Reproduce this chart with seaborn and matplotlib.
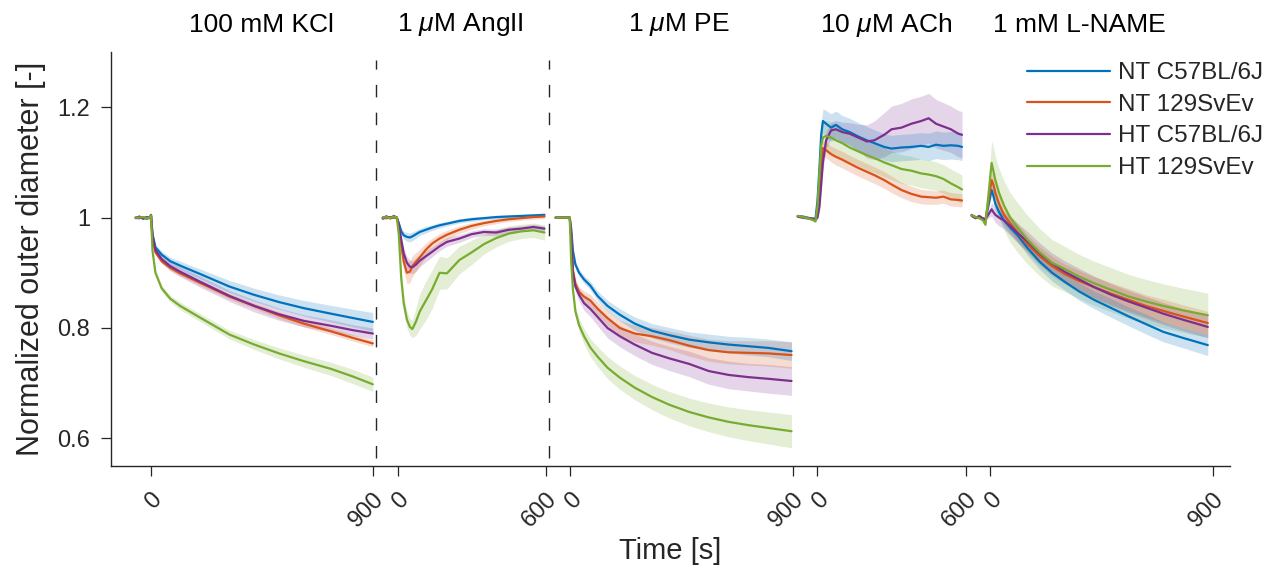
import pandas as pd
import matplotlib
matplotlib.use('Agg')
import matplotlib.pyplot as plt
import matplotlib.transforms as mtransforms
import seaborn as sns

GROUPS = ['NT C57BL/6J', 'NT 129SvEv', 'HT C57BL/6J', 'HT 129SvEv']
COLORS = ['#0072BD', '#D95319', '#7E2F8E', '#77AC30']

SEGMENTS = ['100 mM KCl', r'1 $\mu$M AngII', r'1 $\mu$M PE', r'10 $\mu$M ACh', '1 mM L-NAME']
SEG_LENGTH = [900, 600, 900, 600, 900]

# --- 100 mM KCl ---
kcl_t = [-60, -45, -30, -15, -3, 2, 8, 20, 45, 80, 120, 200, 320, 420, 520, 620, 730, 820, 900]
kcl_mean = {
    'NT C57BL/6J': [1.0, 0.999, 1.001, 0.998, 1.001, 1.004, 0.97, 0.946, 0.933, 0.921, 0.913, 0.898, 0.875, 0.860, 0.847, 0.836, 0.826, 0.818, 0.811],
    'NT 129SvEv': [1.0, 1.001, 0.999, 1.0, 1.0, 1.003, 0.962, 0.937, 0.921, 0.909, 0.899, 0.882, 0.857, 0.840, 0.823, 0.808, 0.794, 0.782, 0.772],
    'HT C57BL/6J': [0.999, 1.002, 0.998, 1.001, 0.999, 1.005, 0.966, 0.941, 0.925, 0.912, 0.902, 0.884, 0.858, 0.840, 0.825, 0.813, 0.804, 0.796, 0.790],
    'HT 129SvEv': [1.0, 1.0, 1.001, 0.999, 1.0, 1.004, 0.94, 0.900, 0.872, 0.853, 0.840, 0.819, 0.788, 0.770, 0.754, 0.740, 0.726, 0.712, 0.698],
}
kcl_sem = {
    'NT C57BL/6J': [0.002, 0.002, 0.002, 0.002, 0.002, 0.002, 0.004, 0.005, 0.006, 0.007, 0.008, 0.009, 0.011, 0.012, 0.013, 0.014, 0.015, 0.016, 0.017],
    'NT 129SvEv': [0.002, 0.002, 0.002, 0.002, 0.002, 0.002, 0.003, 0.004, 0.004, 0.005, 0.005, 0.005, 0.005, 0.005, 0.006, 0.006, 0.006, 0.006, 0.006],
    'HT C57BL/6J': [0.002, 0.002, 0.002, 0.002, 0.002, 0.002, 0.004, 0.006, 0.007, 0.008, 0.009, 0.010, 0.010, 0.011, 0.011, 0.011, 0.011, 0.010, 0.010],
    'HT 129SvEv': [0.002, 0.002, 0.002, 0.002, 0.002, 0.002, 0.004, 0.005, 0.006, 0.006, 0.007, 0.007, 0.008, 0.009, 0.010, 0.011, 0.012, 0.013, 0.013],
}

# --- 1 uM AngII ---
ang_t = [-60, -45, -30, -15, -3, 5, 15, 25, 38, 50, 60, 75, 90, 115, 140, 170, 200, 250, 300, 350, 400, 450, 500, 550, 595]
ang_mean = {
    'NT C57BL/6J': [1.0, 1.002, 0.999, 1.001, 1.0, 0.990, 0.975, 0.968, 0.965, 0.964, 0.966, 0.970, 0.974, 0.978, 0.982, 0.986, 0.989, 0.994, 0.997, 0.999, 1.001, 1.002, 1.003, 1.004, 1.005],
    'NT 129SvEv': [1.0, 0.999, 1.001, 1.0, 1.0, 0.985, 0.950, 0.920, 0.900, 0.902, 0.912, 0.920, 0.928, 0.942, 0.953, 0.962, 0.969, 0.978, 0.985, 0.990, 0.994, 0.997, 0.999, 1.001, 1.002],
    'HT C57BL/6J': [0.998, 1.002, 0.999, 1.003, 1.0, 0.988, 0.960, 0.935, 0.918, 0.911, 0.910, 0.915, 0.922, 0.930, 0.938, 0.948, 0.956, 0.962, 0.970, 0.974, 0.973, 0.978, 0.980, 0.983, 0.980],
    'HT 129SvEv': [1.0, 1.001, 0.999, 1.002, 1.0, 0.970, 0.890, 0.845, 0.815, 0.802, 0.798, 0.812, 0.830, 0.850, 0.870, 0.900, 0.899, 0.923, 0.937, 0.952, 0.963, 0.971, 0.975, 0.977, 0.973],
}
ang_sem = {
    'NT C57BL/6J': [0.002, 0.002, 0.002, 0.002, 0.002, 0.004, 0.006, 0.007, 0.008, 0.008, 0.008, 0.007, 0.006, 0.006, 0.005, 0.005, 0.004, 0.004, 0.004, 0.003, 0.003, 0.003, 0.003, 0.003, 0.003],
    'NT 129SvEv': [0.002, 0.002, 0.002, 0.002, 0.002, 0.006, 0.012, 0.017, 0.020, 0.020, 0.019, 0.017, 0.015, 0.012, 0.010, 0.009, 0.008, 0.007, 0.006, 0.005, 0.005, 0.004, 0.004, 0.004, 0.004],
    'HT C57BL/6J': [0.002, 0.002, 0.002, 0.002, 0.002, 0.005, 0.008, 0.010, 0.012, 0.012, 0.012, 0.012, 0.011, 0.010, 0.009, 0.008, 0.008, 0.007, 0.006, 0.006, 0.006, 0.005, 0.005, 0.005, 0.005],
    'HT 129SvEv': [0.002, 0.002, 0.002, 0.002, 0.002, 0.008, 0.012, 0.014, 0.015, 0.015, 0.016, 0.025, 0.032, 0.035, 0.035, 0.030, 0.028, 0.025, 0.022, 0.018, 0.016, 0.014, 0.013, 0.013, 0.014],
}

# --- 1 uM PE ---
pe_t = [-60, -40, -20, -3, 3, 10, 20, 35, 55, 80, 110, 150, 200, 260, 330, 400, 480, 560, 640, 720, 800, 895]
pe_mean = {
    'NT C57BL/6J': [1.0, 1.0, 1.0, 1.0, 0.980, 0.940, 0.915, 0.900, 0.888, 0.877, 0.858, 0.840, 0.824, 0.808, 0.795, 0.787, 0.779, 0.774, 0.770, 0.767, 0.764, 0.758],
    'NT 129SvEv': [1.0, 1.0, 1.0, 1.0, 0.970, 0.905, 0.880, 0.865, 0.857, 0.850, 0.835, 0.818, 0.800, 0.790, 0.785, 0.778, 0.768, 0.760, 0.756, 0.755, 0.754, 0.751],
    'HT C57BL/6J': [1.0, 1.0, 1.0, 1.0, 0.965, 0.900, 0.875, 0.860, 0.845, 0.835, 0.820, 0.800, 0.785, 0.770, 0.755, 0.745, 0.735, 0.722, 0.715, 0.711, 0.708, 0.704],
    'HT 129SvEv': [1.0, 1.0, 1.0, 1.0, 0.920, 0.870, 0.830, 0.805, 0.785, 0.765, 0.748, 0.728, 0.710, 0.692, 0.675, 0.661, 0.648, 0.638, 0.630, 0.624, 0.619, 0.613],
}
pe_sem = {
    'NT C57BL/6J': [0.001, 0.001, 0.001, 0.001, 0.003, 0.005, 0.006, 0.006, 0.007, 0.008, 0.009, 0.010, 0.011, 0.012, 0.013, 0.014, 0.014, 0.015, 0.015, 0.016, 0.016, 0.017],
    'NT 129SvEv': [0.001, 0.001, 0.001, 0.001, 0.003, 0.006, 0.008, 0.009, 0.010, 0.011, 0.012, 0.013, 0.014, 0.015, 0.016, 0.017, 0.019, 0.020, 0.021, 0.022, 0.023, 0.024],
    'HT C57BL/6J': [0.001, 0.001, 0.001, 0.001, 0.004, 0.008, 0.010, 0.012, 0.013, 0.014, 0.016, 0.018, 0.019, 0.020, 0.021, 0.022, 0.023, 0.024, 0.025, 0.025, 0.026, 0.026],
    'HT 129SvEv': [0.001, 0.001, 0.001, 0.001, 0.005, 0.008, 0.010, 0.012, 0.014, 0.016, 0.018, 0.020, 0.021, 0.022, 0.023, 0.024, 0.025, 0.026, 0.027, 0.028, 0.029, 0.030],
}

# --- 10 uM ACh ---
ach_t = [-80, -60, -40, -20, -8, 0, 8, 15, 22, 35, 55, 75, 100, 130, 165, 200, 230, 270, 300, 340, 380, 420, 450, 480, 510, 540, 570, 585]
ach_mean = {
    'NT C57BL/6J': [1.003, 1.002, 1.000, 0.998, 0.998, 1.030, 1.090, 1.150, 1.175, 1.170, 1.163, 1.168, 1.160, 1.155, 1.147, 1.140, 1.135, 1.128, 1.125, 1.127, 1.128, 1.130, 1.128, 1.132, 1.130, 1.131, 1.130, 1.128],
    'NT 129SvEv': [1.002, 1.001, 0.999, 0.997, 0.996, 1.010, 1.050, 1.100, 1.126, 1.122, 1.115, 1.110, 1.105, 1.098, 1.090, 1.083, 1.077, 1.068, 1.060, 1.050, 1.043, 1.038, 1.037, 1.036, 1.038, 1.033, 1.032, 1.031],
    'HT C57BL/6J': [1.002, 1.000, 0.999, 0.998, 0.997, 1.000, 1.020, 1.060, 1.100, 1.140, 1.158, 1.160, 1.155, 1.152, 1.145, 1.138, 1.140, 1.150, 1.160, 1.163, 1.170, 1.175, 1.180, 1.170, 1.165, 1.160, 1.152, 1.150],
    'HT 129SvEv': [1.003, 1.001, 0.999, 0.996, 0.993, 1.020, 1.080, 1.130, 1.145, 1.148, 1.145, 1.140, 1.135, 1.127, 1.120, 1.113, 1.108, 1.100, 1.095, 1.088, 1.085, 1.080, 1.078, 1.075, 1.070, 1.062, 1.055, 1.051],
}
ach_sem = {
    'NT C57BL/6J': [0.002, 0.002, 0.002, 0.002, 0.002, 0.008, 0.015, 0.020, 0.022, 0.024, 0.025, 0.025, 0.025, 0.025, 0.025, 0.025, 0.024, 0.024, 0.024, 0.024, 0.024, 0.024, 0.025, 0.025, 0.025, 0.025, 0.025, 0.025],
    'NT 129SvEv': [0.002, 0.002, 0.002, 0.002, 0.002, 0.005, 0.010, 0.012, 0.013, 0.014, 0.014, 0.015, 0.015, 0.015, 0.015, 0.015, 0.015, 0.015, 0.015, 0.014, 0.014, 0.013, 0.013, 0.012, 0.012, 0.012, 0.012, 0.012],
    'HT C57BL/6J': [0.002, 0.002, 0.002, 0.002, 0.002, 0.004, 0.008, 0.012, 0.014, 0.015, 0.015, 0.016, 0.018, 0.020, 0.024, 0.030, 0.035, 0.040, 0.042, 0.044, 0.045, 0.045, 0.045, 0.044, 0.043, 0.042, 0.042, 0.042],
    'HT 129SvEv': [0.002, 0.002, 0.002, 0.002, 0.002, 0.010, 0.020, 0.025, 0.027, 0.028, 0.028, 0.028, 0.028, 0.027, 0.026, 0.026, 0.026, 0.026, 0.026, 0.026, 0.026, 0.026, 0.026, 0.026, 0.026, 0.026, 0.026, 0.026],
}

# --- 1 mM L-NAME ---
lname_t = [-76, -60, -45, -30, -20, 5, 12, 20, 35, 55, 80, 110, 150, 200, 250, 300, 360, 420, 490, 560, 630, 700, 780, 880]
lname_mean = {
    'NT C57BL/6J': [1.005, 1.000, 1.002, 0.998, 0.996, 1.050, 1.040, 1.025, 1.010, 0.995, 0.982, 0.968, 0.945, 0.920, 0.900, 0.884, 0.866, 0.851, 0.836, 0.821, 0.807, 0.793, 0.782, 0.769],
    'NT 129SvEv': [1.004, 1.001, 1.000, 0.999, 0.995, 1.068, 1.060, 1.045, 1.025, 1.005, 0.990, 0.973, 0.952, 0.930, 0.912, 0.898, 0.885, 0.874, 0.862, 0.851, 0.840, 0.831, 0.821, 0.809],
    'HT C57BL/6J': [1.003, 0.999, 1.003, 0.998, 0.997, 1.015, 1.010, 1.005, 1.000, 0.995, 0.985, 0.972, 0.957, 0.935, 0.917, 0.902, 0.888, 0.874, 0.860, 0.848, 0.837, 0.826, 0.815, 0.802],
    'HT 129SvEv': [1.004, 1.001, 0.999, 0.995, 0.987, 1.099, 1.085, 1.068, 1.045, 1.022, 1.000, 0.982, 0.960, 0.937, 0.918, 0.907, 0.893, 0.881, 0.869, 0.857, 0.848, 0.840, 0.832, 0.823],
}
lname_sem = {
    'NT C57BL/6J': [0.002, 0.002, 0.002, 0.002, 0.002, 0.012, 0.012, 0.012, 0.012, 0.012, 0.012, 0.012, 0.013, 0.014, 0.015, 0.015, 0.016, 0.016, 0.017, 0.017, 0.018, 0.018, 0.018, 0.019],
    'NT 129SvEv': [0.002, 0.002, 0.002, 0.002, 0.002, 0.015, 0.015, 0.015, 0.015, 0.015, 0.015, 0.016, 0.016, 0.017, 0.018, 0.018, 0.019, 0.019, 0.020, 0.020, 0.020, 0.021, 0.021, 0.021],
    'HT C57BL/6J': [0.002, 0.002, 0.002, 0.002, 0.002, 0.012, 0.013, 0.014, 0.015, 0.016, 0.017, 0.018, 0.018, 0.019, 0.019, 0.020, 0.020, 0.020, 0.020, 0.020, 0.020, 0.020, 0.020, 0.020],
    'HT 129SvEv': [0.002, 0.002, 0.002, 0.002, 0.004, 0.040, 0.042, 0.043, 0.044, 0.045, 0.045, 0.045, 0.044, 0.043, 0.042, 0.041, 0.040, 0.040, 0.040, 0.040, 0.040, 0.040, 0.040, 0.040],
}

SEG_DATA = [(kcl_t, kcl_mean, kcl_sem), (ang_t, ang_mean, ang_sem), (pe_t, pe_mean, pe_sem),
            (ach_t, ach_mean, ach_sem), (lname_t, lname_mean, lname_sem)]

# segments are laid out one after another on a shared time axis, 100 s apart
GAP = 100
offsets = []
pos = 0
for length in SEG_LENGTH:
    offsets.append(pos)
    pos += length + GAP

rows = []
for s, (t, means, sems) in enumerate(SEG_DATA):
    for g in GROUPS:
        for ti, m, e in zip(t, means[g], sems[g]):
            rows.append({'time': offsets[s] + ti, 'diameter': m, 'lo': m - e, 'hi': m + e,
                         'group': g, 'segment': s})
df = pd.DataFrame(rows)

sns.set_theme(style='ticks')
plt.rcParams['font.family'] = ['Liberation Sans', 'DejaVu Sans']
plt.rcParams['mathtext.fontset'] = 'custom'
plt.rcParams['mathtext.it'] = 'Liberation Sans:italic'
plt.rcParams['mathtext.rm'] = 'Liberation Sans'

fig = plt.figure(figsize=(12.68, 5.69), dpi=100)
ax = fig.add_axes([111 / 1268, 103 / 569, 1119 / 1268, 414 / 569])

for (g, s), sub in df.groupby(['group', 'segment']):
    ax.fill_between(sub['time'], sub['lo'], sub['hi'], color=COLORS[GROUPS.index(g)],
                    alpha=0.2, lw=0, zorder=1)

sns.lineplot(data=df, x='time', y='diameter', hue='group', hue_order=GROUPS, palette=COLORS,
             units='segment', estimator=None, sort=False, lw=1.6, ax=ax, zorder=3)

# separators after KCl and AngII
for s in [0, 1]:
    ax.axvline(offsets[s] + SEG_LENGTH[s] + 12, ymin=0.02, ymax=0.98, color='#262626',
               lw=1, dashes=(9, 11), zorder=2)

ax.set_xlim(-160, 4370)
ax.set_ylim(0.55, 1.3)

ticks, labels = [], []
for s, length in enumerate(SEG_LENGTH):
    ticks += [offsets[s], offsets[s] + length]
    labels += ['0', str(length)]
ax.set_xticks(ticks)
ax.set_xticklabels(labels, rotation=45, ha='right', rotation_mode='anchor')
ax.set_yticks([0.6, 0.8, 1.0, 1.2])
ax.set_yticklabels(['0.6', '0.8', '1', '1.2'])
ax.tick_params(direction='out', length=7, width=0.9, colors='#262626', labelsize=17)
ax.tick_params(axis='y', pad=8)
ax.tick_params(axis='x', pad=9)

ax.set_xlabel('Time [s]', fontsize=21, color='#262626', labelpad=4)
ax.set_ylabel('Normalized outer diameter [-]', fontsize=22, color='#262626', labelpad=8)
sns.despine(ax=ax)
for sp in ['left', 'bottom']:
    ax.spines[sp].set_color('#262626')
    ax.spines[sp].set_linewidth(1.0)

trans = mtransforms.blended_transform_factory(ax.transData, fig.transFigure)
title_x = [451, 1255, 2139, 2979, 3762]
for name, x in zip(SEGMENTS, title_x):
    ax.text(x, 1 - 25 / 569, name, transform=trans, ha='center', va='center',
            fontsize=19, color='black')

handles, labs = ax.get_legend_handles_labels()
ax.legend(handles, labs, loc='upper left', bbox_to_anchor=(1027 / 1268, 1 - 62 / 569),
          bbox_transform=fig.transFigure, frameon=False, fontsize=17.5, handlelength=3.4,
          handletextpad=0.35, labelspacing=0.4, borderpad=0, borderaxespad=0)

fig.savefig('out.png', dpi=100)
